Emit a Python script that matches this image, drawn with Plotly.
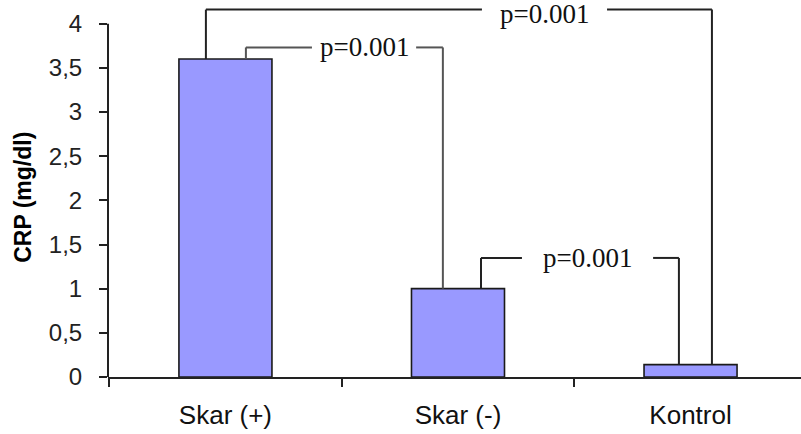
import plotly.graph_objects as go

# ---- data ----
categories = ["Skar (+)", "Skar (-)", "Kontrol"]
crp_values = [3.6, 1.0, 0.14]
y_tickvals = [0, 0.5, 1, 1.5, 2, 2.5, 3, 3.5, 4]
y_ticktext = ["0", "0,5", "1", "1,5", "2", "2,5", "3", "3,5", "4"]
p_labels = ["p=0.001", "p=0.001", "p=0.001"]
# comparisons: (left category index, right category index)
comparisons = [(0, 2), (0, 1), (1, 2)]

# ---- styling / layout constants ----
bracket_levels = [4.159, 3.731, 1.348]          # heights of the bracket bars
bracket_offsets = [(-0.084, 0.092), (0.088, -0.065), (0.099, -0.050)]
text_centers = [1.372, 0.596, 1.557]
text_half_gap = [0.269, 0.224, 0.282]
text_yshift = [-4, 0, 0]
line_colors = ["#222222", "#555555", "#222222"]

fig = go.Figure()
fig.add_trace(go.Bar(
    x=categories, y=crp_values, width=0.4,
    marker=dict(color="#9999FF", line=dict(color="#1a1a1a", width=1.6)),
    showlegend=False, hoverinfo="skip",
))

shapes = []
annotations = []
for i, (a, b) in enumerate(comparisons):
    lvl = bracket_levels[i]
    xl = a + bracket_offsets[i][0]
    xr = b + bracket_offsets[i][1]
    tc = text_centers[i]
    hg = text_half_gap[i]
    ln = dict(color=line_colors[i], width=2)
    shapes.append(dict(type="line", xref="x", yref="y", x0=xl, x1=xl,
                       y0=crp_values[a], y1=lvl, line=ln))
    shapes.append(dict(type="line", xref="x", yref="y", x0=xl, x1=tc - hg,
                       y0=lvl, y1=lvl, line=ln))
    shapes.append(dict(type="line", xref="x", yref="y", x0=tc + hg, x1=xr,
                       y0=lvl, y1=lvl, line=ln))
    shapes.append(dict(type="line", xref="x", yref="y", x0=xr, x1=xr,
                       y0=lvl, y1=crp_values[b], line=ln))
    annotations.append(dict(
        x=tc, y=lvl, xref="x", yref="y", text=p_labels[i], showarrow=False,
        xanchor="center", yanchor="middle", yshift=text_yshift[i],
        font=dict(family="Liberation Serif", size=27, color="#111111"),
    ))

# y axis line from 0 to 4 only
shapes.append(dict(type="line", xref="paper", yref="y", x0=0, x1=0,
                   y0=0, y1=4, line=dict(color="#222222", width=2)))

annotations.append(dict(
    x=-0.123, y=0.485, xref="paper", yref="paper", text="<b>CRP (mg/dl)</b>",
    showarrow=False, textangle=-90, xanchor="center", yanchor="middle",
    font=dict(family="Liberation Sans", size=23, color="#000000"),
))

fig.update_layout(
    width=801, height=434,
    margin=dict(l=108, r=0, t=6, b=57),
    paper_bgcolor="white", plot_bgcolor="white",
    shapes=shapes, annotations=annotations,
    xaxis=dict(
        type="category", range=[-0.505, 2.475],
        showgrid=False, zeroline=False,
        showline=True, linecolor="#222222", linewidth=2,
        tickson="boundaries", ticks="outside", ticklen=8, tickwidth=2,
        tickcolor="#222222",
        tickfont=dict(family="Liberation Sans", size=26, color="#111111"),
        ticklabelstandoff=14,
    ),
    yaxis=dict(
        range=[0, 4.2], tickvals=y_tickvals, ticktext=y_ticktext,
        showgrid=False, zeroline=False, showline=False,
        ticks="outside", ticklen=8, tickwidth=2, tickcolor="#222222",
        tickfont=dict(family="Liberation Sans", size=24, color="#222222"),
        ticklabelstandoff=12,
    ),
)

fig.write_html("out.html", config={"displayModeBar": False},
               post_script="document.body.style.margin='0';")
